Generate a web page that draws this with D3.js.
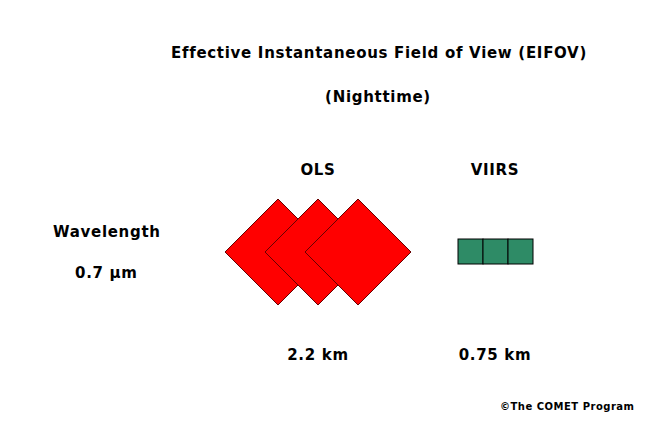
<!DOCTYPE html><html><head><meta charset="utf-8"><script src="https://cdn.jsdelivr.net/npm/d3@7"></script>
<style>body{margin:0;background:#fff}</style></head><body><script>
const sensors=["OLS","VIIRS"];
const sizes=["2.2 km","0.75 km"];
const olsFootprints=[0,1,2];
const viirsPixels=[0,1,2];
const W=648,H=421;
const svg=d3.select("body").append("svg").attr("width",W).attr("height",H);
const f="'DejaVu Sans',Verdana,sans-serif";
function t(x,y,s,size,anchor,ls){svg.append("text").attr("x",x).attr("y",y).text(s).attr("font-family",f).attr("font-weight","bold").attr("font-size",size).attr("letter-spacing",ls==null?0.7:ls).attr("text-anchor",anchor||"middle").attr("fill","#000");}
t(379,58,"Effective Instantaneous Field of View (EIFOV)",15);
t(378,102,"(Nighttime)",15);
sensors.forEach((s,i)=>{const cx=i==0?318:495;t(cx,175,s,15);t(cx,360,sizes[i],15);});
t(53,237,"Wavelength",15,"start");
t(75,278,"0.7  µm",15,"start");
t(500,410,"©The COMET Program",10,"start",0.5);
const dx=d3.scaleLinear().domain([0,2]).range([278,358]);
const h=53,cy=252;
svg.selectAll(".d").data(olsFootprints).enter().append("path")
 .attr("d",d=>{const c=dx(d);return `M${c-h},${cy}L${c},${cy-h}L${c+h},${cy}L${c},${cy+h}Z`;})
 .attr("fill","#ff0000").attr("stroke","#600").attr("stroke-width",1);
const vx=d3.scaleLinear().domain([0,3]).range([458,533]);
svg.selectAll(".v").data(viirsPixels).enter().append("rect")
 .attr("x",d=>vx(d)).attr("y",239).attr("width",vx(1)-vx(0)).attr("height",25)
 .attr("fill","#2e8b66").attr("stroke","#000").attr("stroke-width",1);
</script></body></html>
